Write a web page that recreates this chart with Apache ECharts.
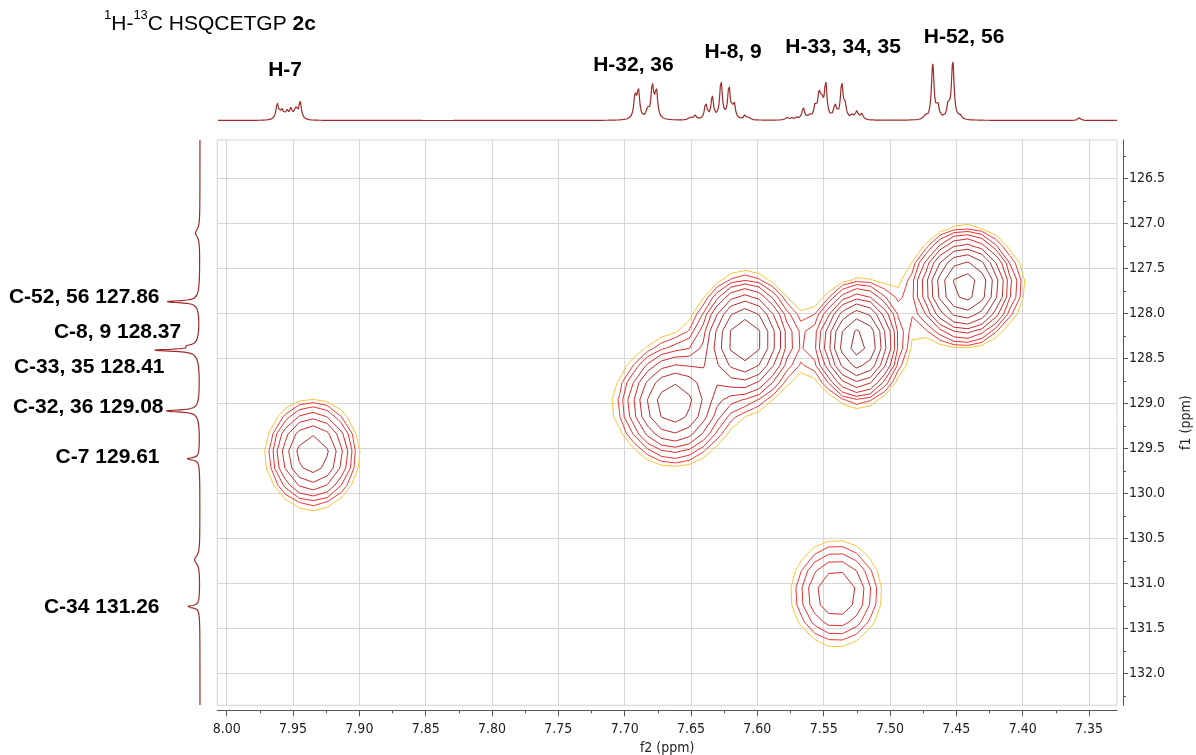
<!DOCTYPE html>
<html><head><meta charset="utf-8">
<script src="https://cdn.jsdelivr.net/npm/echarts@6/dist/echarts.min.js"></script>
<style>html,body{margin:0;padding:0;background:#fff}#c{width:1196px;height:755px}</style>
</head><body><div id="c"></div>
<script>
// ---------------- axes ----------------
const xRange = [7.3289, 8.0071];
const yRange = [126.074, 132.356];
const xMajorTicks = [8.00,7.95,7.90,7.85,7.80,7.75,7.70,7.65,7.60,7.55,7.50,7.45,7.40,7.35];
const xMinorTicks = [7.975,7.925,7.875,7.825,7.775,7.725,7.675,7.625,7.575,7.525,7.475,7.425,7.375];
const yMajorTicks = [126.5,127.0,127.5,128.0,128.5,129.0,129.5,130.0,130.5,131.0,131.5,132.0];
const yMinorTicks = [126.25,126.75,127.25,127.75,128.25,128.75,129.25,129.75,130.25,130.75,131.25,131.75,132.25];

// ---------------- 2D cross peaks (HSQC) ----------------
const hsqcPeakH    = [7.9354, 7.5405, 7.663, 7.6093, 7.524, 7.4434];
const hsqcPeakC    = [129.565, 131.115, 129.008, 128.29, 128.333, 127.70];
const hsqcPeakAmp  = [6.0, 3.66, 7.6, 10.2, 11.9, 12.3];
const hsqcWidthH   = [0.0185, 0.0210, 0.0198, 0.0166, 0.0143, 0.0168];
const hsqcWidthC   = [0.322, 0.361, 0.340, 0.345, 0.314, 0.300];
const hsqcTail     = [0, 0, 0.12, 0.12, 0.12, 0.12];
const contourLevels = [1.00, 1.30, 1.69, 2.20, 2.86, 3.71, 4.83, 6.27, 8.16, 10.6, 13.8];
const contourColors = ['#f9c63c','#f43a38','#ec3131','#e22d2d','#d42b2c','#c52c2e','#b82e30','#ab3132','#a23233','#9b3334','#953334'];

// ---------------- 1H projection (top) ----------------
const hPpm = [7.9619,7.9585,7.9548,7.9516,7.9481,7.9447,
  7.6922,7.6897,7.6829,7.6792,7.6762,
  7.6508,7.6470,7.6389,7.6340,7.6274,7.6214,7.6176,7.6093,7.6061,
  7.5779,7.5741,7.5703,7.5654,7.5608,7.5565,7.5535,7.5515,7.5485,7.5415,7.5364,7.5339,7.5284,7.5251,7.5213,
  7.4736,7.4678,7.4640,7.4561,7.4527,7.4472,7.3573];
const hHeight = [16,10,9,10,11,18,
  22,28,8,33,29,
  2.5,4.5,16,22,38,32,16,4.5,2,
  2.5,2,2,12,4,12,23,15,35,14,35,12,4,8,6,
  3.5,55,13,14,58,3.5,2.8];
const hWidth = 0.0012;

// ---------------- 13C projection (left) ----------------
const cPpm    = [127.108, 127.871, 128.36, 128.41, 129.085, 129.617, 130.74, 131.26];
const cHeight = [4, 31, 7, 41, 32, 13, 5, 13];
const cWidth  = [0.05, 0.013, 0.013, 0.013, 0.013, 0.013, 0.05, 0.013];

// ---------------- annotations ----------------
const topLabels  = ['H-7','H-32, 36','H-8, 9','H-33, 34, 35','H-52, 56'];
const topLabelX  = [7.956, 7.6934, 7.6183, 7.5354, 7.4442];
const topLabelY  = [49.9, 54.9, 68.5, 73.5, 83.7];
const leftLabels = ['C-52, 56 127.86','C-8, 9 128.37','C-33, 35 128.41','C-32, 36 129.08','C-7 129.61','C-34 131.26'];
const leftLabelX = [40, 18.3, 35, 36, 40, 40];
const leftLabelY = [127.824, 128.212, 128.601, 129.047, 129.602, 131.269];

// ======== computations ========
function field(x, y) {
  let s = 0;
  for (let p = 0; p < hsqcPeakH.length; p++) {
    const dx = x - hsqcPeakH[p], dy = y - hsqcPeakC[p];
    const sx = hsqcWidthH[p], sy = hsqcWidthC[p], w = hsqcTail[p];
    const gy = Math.exp(-dy*dy/(2*sy*sy));
    const gx = (1-w)*Math.exp(-dx*dx/(2*sx*sx)) + w*Math.exp(-dx*dx/(2*4.84*sx*sx));
    s += hsqcPeakAmp[p]*gx*gy;
  }
  return s;
}
const xs = [], ys = [];
for (let k = -45; k <= 45; k++) { const v = 7.6093 + k*0.0105; if (v > 7.28 && v < 8.06) xs.push(v); }
for (let k = -14; k <= 26; k++) { const v = 128.20 + k*0.19; if (v > 125.8 && v < 132.7) ys.push(v); }
const G = ys.map(y => xs.map(x => field(x, y)));

function contour(level) {
  const adj = new Map(), pts = new Map();
  const link = (k1, k2) => {
    if (!adj.has(k1)) adj.set(k1, []); if (!adj.has(k2)) adj.set(k2, []);
    adj.get(k1).push(k2); adj.get(k2).push(k1);
  };
  for (let j = 0; j < ys.length-1; j++) for (let i = 0; i < xs.length-1; i++) {
    const a = G[j][i], b = G[j][i+1], c = G[j+1][i+1], d = G[j+1][i];
    const idx = (a>=level?1:0)|(b>=level?2:0)|(c>=level?4:0)|(d>=level?8:0);
    if (idx === 0 || idx === 15) continue;
    const e = [
      ['h'+i+'_'+j, () => [xs[i] + (level-a)/(b-a)*(xs[i+1]-xs[i]), ys[j]]],
      ['v'+(i+1)+'_'+j, () => [xs[i+1], ys[j] + (level-b)/(c-b)*(ys[j+1]-ys[j])]],
      ['h'+i+'_'+(j+1), () => [xs[i] + (level-d)/(c-d)*(xs[i+1]-xs[i]), ys[j+1]]],
      ['v'+i+'_'+j, () => [xs[i], ys[j] + (level-a)/(d-a)*(ys[j+1]-ys[j])]]
    ];
    const center = (a+b+c+d)/4 >= level;
    let segs;
    switch (idx) {
      case 1: segs=[[3,0]]; break; case 2: segs=[[0,1]]; break; case 3: segs=[[3,1]]; break;
      case 4: segs=[[1,2]]; break; case 5: segs = center ? [[0,1],[2,3]] : [[3,0],[1,2]]; break;
      case 6: segs=[[0,2]]; break; case 7: segs=[[3,2]]; break; case 8: segs=[[2,3]]; break;
      case 9: segs=[[0,2]]; break; case 10: segs = center ? [[3,0],[1,2]] : [[0,1],[2,3]]; break;
      case 11: segs=[[1,2]]; break; case 12: segs=[[1,3]]; break; case 13: segs=[[0,1]]; break;
      case 14: segs=[[0,3]]; break;
    }
    segs.forEach(([p, q]) => {
      if (!pts.has(e[p][0])) pts.set(e[p][0], e[p][1]());
      if (!pts.has(e[q][0])) pts.set(e[q][0], e[q][1]());
      link(e[p][0], e[q][0]);
    });
  }
  const used = new Set(), lines = [];
  const walk = (start) => {
    const path = [pts.get(start)]; used.add(start);
    let cur = start;
    while (true) {
      const nx = adj.get(cur).find(k => !used.has(k));
      if (nx === undefined) {
        if (adj.get(cur).includes(start) && path.length > 2) path.push(pts.get(start));
        break;
      }
      used.add(nx); path.push(pts.get(nx)); cur = nx;
    }
    lines.push(path);
  };
  adj.forEach((v, k) => { if (!used.has(k) && v.length === 1) walk(k); });
  adj.forEach((v, k) => { if (!used.has(k)) walk(k); });
  return lines;
}

const contourSeries = contourLevels.map((lv, k) => ({
  type: 'lines', coordinateSystem: 'cartesian2d', xAxisIndex: 0, yAxisIndex: 0,
  polyline: true, silent: true, animation: false, z: 5 + k,
  lineStyle: { color: contourColors[k], width: 1, opacity: 1 },
  data: contour(lv).map(c => ({ coords: c }))
}));

const hSpec = [];
for (let x = xRange[0]; x <= xRange[1]; x += 0.0002) {
  let s = 0;
  for (let p = 0; p < hPpm.length; p++) { const d = (x - hPpm[p]) / hWidth; s += hHeight[p] / (1 + d*d); }
  hSpec.push([x, s]);
}
const cSpec = [];
for (let y = yRange[0]; y <= yRange[1]; y += 0.002) {
  let s = 0;
  for (let p = 0; p < cPpm.length; p++) {
    const d = (y - cPpm[p]) / cWidth[p], d2 = (y - cPpm[p]) / 0.1;
    s += cHeight[p] / (1 + d*d) + 0.1 * cHeight[p] / (1 + d2*d2);
  }
  cSpec.push([s, y]);
}

const gridLineData = xMajorTicks.map(v => ({ coords: [[v, yRange[0]], [v, yRange[1]]] }))
  .concat(yMajorTicks.map(v => ({ coords: [[xRange[0], v], [xRange[1], v]] })));

const axisFont = "'DejaVu Sans Condensed', 'DejaVu Sans', sans-serif";
const labelFont = "'Liberation Sans', Arial, sans-serif";
const axisColor = '#555';
const annotLabel = { color: '#000', opacity: 1, fontSize: 21, fontWeight: 'bold', fontFamily: labelFont, textBorderWidth: 0 };

const chart = echarts.init(document.getElementById('c'), null, { renderer: 'canvas' });
chart.setOption({
  animation: false,
  backgroundColor: '#fff',
  title: {
    left: 104, top: 9, padding: 0,
    text: '{s|1}{n|H-}{s|13}{n|C HSQCETGP }{b|2c}',
    textStyle: { fontWeight: 'normal', rich: {
      n: { fontFamily: labelFont, fontSize: 21, fontWeight: 'normal', color: '#000', lineHeight: 26, verticalAlign: 'bottom' },
      s: { fontFamily: labelFont, fontSize: 13, fontWeight: 'normal', color: '#000', lineHeight: 26, verticalAlign: 'top' },
      b: { fontFamily: labelFont, fontSize: 21, fontWeight: 'bold', color: '#000', lineHeight: 26, verticalAlign: 'bottom' }
    } }
  },
  grid: [
    { left: 217.3, right: 79, top: 140, bottom: 49.7, show: true, borderColor: '#d2d2d2', borderWidth: 1,
      containLabel: false, outerBoundsMode: 'none' },
    { left: 217.3, right: 79, top: 0, height: 120.5, containLabel: false, outerBoundsMode: 'none' },
    { left: 0, width: 200, top: 140, bottom: 49.7, containLabel: false, outerBoundsMode: 'none' }
  ],
  xAxis: [
    { gridIndex: 0, type: 'value', min: xRange[0], max: xRange[1], inverse: true, position: 'bottom', offset: 5,
      axisLine: { onZero: false, lineStyle: { color: axisColor, width: 1 } },
      axisTick: { customValues: xMajorTicks, length: 6, lineStyle: { color: axisColor } },
      axisLabel: { customValues: xMajorTicks, formatter: v => v.toFixed(2), color: '#222', fontSize: 14, fontFamily: axisFont, margin: 12 },
      splitLine: { show: false },
      name: 'f2 (ppm)', nameLocation: 'middle', nameGap: 30,
      nameTextStyle: { color: '#222', fontSize: 14, fontFamily: axisFont } },
    { gridIndex: 0, type: 'value', min: xRange[0], max: xRange[1], inverse: true, position: 'bottom', offset: 5,
      axisLine: { show: false, onZero: false },
      axisTick: { customValues: xMinorTicks, length: 3, lineStyle: { color: axisColor } },
      axisLabel: { show: false }, splitLine: { show: false } },
    { gridIndex: 1, type: 'value', min: xRange[0], max: xRange[1], inverse: true, show: false },
    { gridIndex: 2, type: 'value', min: 0, max: 200, inverse: true, show: false }
  ],
  yAxis: [
    { gridIndex: 0, type: 'value', min: yRange[0], max: yRange[1], inverse: true, position: 'right', offset: 6,
      axisLine: { show: true, onZero: false, lineStyle: { color: axisColor, width: 1 } },
      axisTick: { show: true, customValues: yMajorTicks, length: 5, lineStyle: { color: axisColor } },
      axisLabel: { customValues: yMajorTicks, formatter: v => v.toFixed(1), color: '#222', fontSize: 14, fontFamily: axisFont, margin: 6 },
      splitLine: { show: false },
      name: 'f1 (ppm)', nameLocation: 'middle', nameGap: 56,
      nameTextStyle: { color: '#222', fontSize: 14, fontFamily: axisFont } },
    { gridIndex: 0, type: 'value', min: yRange[0], max: yRange[1], inverse: true, position: 'right', offset: 6,
      axisLine: { show: false, onZero: false },
      axisTick: { show: true, customValues: yMinorTicks, length: 3, lineStyle: { color: axisColor } },
      axisLabel: { show: false }, splitLine: { show: false } },
    { gridIndex: 1, type: 'value', min: 0, max: 120.5, show: false },
    { gridIndex: 2, type: 'value', min: yRange[0], max: yRange[1], inverse: true, show: false }
  ],
  series: [
    { type: 'lines', coordinateSystem: 'cartesian2d', xAxisIndex: 0, yAxisIndex: 0, polyline: false, silent: true,
      z: 1, lineStyle: { color: '#d6d6d6', width: 1, opacity: 1 }, data: gridLineData },
    ...contourSeries,
    { type: 'line', xAxisIndex: 2, yAxisIndex: 2, data: hSpec, showSymbol: false, symbol: 'none', silent: true,
      lineStyle: { color: '#9e2b2b', width: 1.2 } },
    { type: 'line', xAxisIndex: 3, yAxisIndex: 3, data: cSpec, showSymbol: false, symbol: 'none', silent: true,
      lineStyle: { color: '#9e2b2b', width: 1.2 } },
    { type: 'scatter', xAxisIndex: 2, yAxisIndex: 2, symbolSize: 1, silent: true,
      itemStyle: { color: 'rgba(0,0,0,0)', opacity: 1 },
      data: topLabels.map((t, i) => ({ value: [topLabelX[i], topLabelY[i]], name: t })),
      label: Object.assign({ show: true, position: 'inside', formatter: p => p.name }, annotLabel) },
    { type: 'scatter', xAxisIndex: 3, yAxisIndex: 3, symbolSize: 1, silent: true,
      itemStyle: { color: 'rgba(0,0,0,0)', opacity: 1 },
      data: leftLabels.map((t, i) => ({ value: [leftLabelX[i], leftLabelY[i]], name: t })),
      label: Object.assign({ show: true, position: 'left', distance: 0, formatter: p => p.name }, annotLabel) }
  ]
});
</script></body></html>
